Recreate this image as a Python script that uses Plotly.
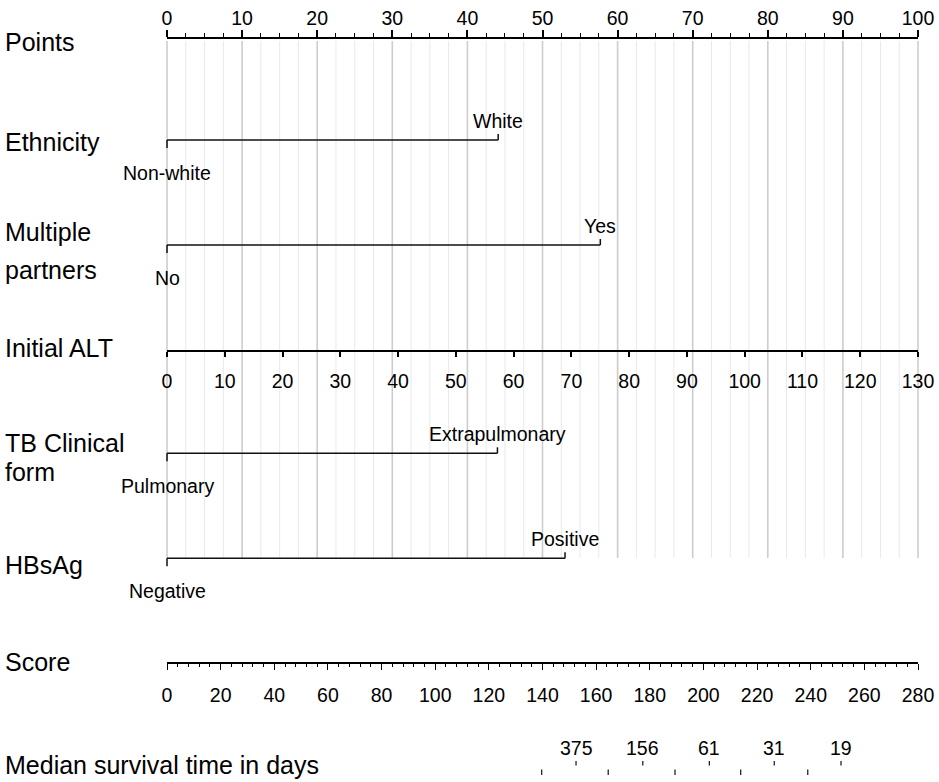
import numpy as np
import plotly.graph_objects as go

# ---------------- nomogram content ----------------
points_ticks = list(range(0, 101, 10))

ethnicity_levels = ["Non-white", "White"]
ethnicity_points = [0, 44.1]

partners_levels = ["No", "Yes"]
partners_points = [0, 57.7]

alt_ticks = list(range(0, 131, 10))
alt_max = 130            # ALT value that earns 100 points

tb_levels = ["Pulmonary", "Extrapulmonary"]
tb_points = [0, 44.0]

hbsag_levels = ["Negative", "Positive"]
hbsag_points = [0, 53.0]

score_ticks = list(range(0, 281, 20))
score_max = 280

survival_scores = [139.7, 152.5, 164.5, 177.4, 189.4, 202.2, 213.9, 226.4, 238.9, 251.3]
survival_labels = ["", "375", "", "156", "", "61", "", "31", "", "19"]

# ---------------- page geometry (pixels) ----------------
W, H = 939, 782
X0_PX, X100_PX = 167, 918           # where 0 and 100 points sit
PPP = (X100_PX - X0_PX) / 100.0     # pixels per point
FONT = "Liberation Sans, Arial, Helvetica, sans-serif"
LABEL_SIZE = 25
SMALL_SIZE = 19.5

Y_POINTS = 37.5
Y_ETH = 140
Y_PART = 245
Y_ALT = 350.7
Y_TB = 453.3
Y_HBS = 558.3
Y_SCORE = 663.3
Y_SURV = 748
GRID_TOP, GRID_BOTTOM = 41, 558


def ypaper(py):
    return 1 - py / H


fig = go.Figure()
shapes = []
annotations = []

# vertical reference grid on the points scale
for v in np.arange(0, 100.001, 2.5):
    major = abs(v % 10) < 1e-9
    shapes.append(dict(
        type="line", xref="x", yref="y", x0=v, x1=v, y0=GRID_TOP, y1=GRID_BOTTOM,
        line=dict(color="#cdcdcd" if major else "#e9e9e9", width=1.6 if major else 1),
        layer="below"))


def row_label(text, py):
    annotations.append(dict(
        text=text, xref="paper", yref="y", x=3 / W, y=py, xanchor="left", yanchor="middle",
        showarrow=False, font=dict(family=FONT, size=LABEL_SIZE, color="black")))


def categorical_row(levels, pts, py):
    shapes.append(dict(type="line", xref="x", yref="y", x0=pts[0], x1=pts[-1], y0=py, y1=py,
                       line=dict(color="#111111", width=1.5)))
    for i, (lab, p) in enumerate(zip(levels, pts)):
        below = (i % 2 == 0)
        tick_end = py + 8 if below else py - 6
        shapes.append(dict(type="line", xref="x", yref="y", x0=p, x1=p, y0=py, y1=tick_end,
                           line=dict(color="#111111", width=1.5)))
        annotations.append(dict(
            text=lab, xref="x", yref="y", x=p, y=py + 33 if below else py - 19,
            xanchor="center", yanchor="middle", showarrow=False,
            font=dict(family=FONT, size=SMALL_SIZE, color="black")))


# row titles
row_label("Points", 42)
row_label("Ethnicity", 142)
row_label("Multiple", 232)
row_label("partners", 270)
row_label("Initial ALT", 348)
row_label("TB Clinical", 443)
row_label("form", 472)
row_label("HBsAg", 565)
row_label("Score", 662)
row_label("Median survival time in days", 765)

categorical_row(ethnicity_levels, ethnicity_points, Y_ETH)
categorical_row(partners_levels, partners_points, Y_PART)
categorical_row(tb_levels, tb_points, Y_TB)
categorical_row(hbsag_levels, hbsag_points, Y_HBS)

# median survival ticks placed on the score scale
for s, lab in zip(survival_scores, survival_labels):
    p = s * 100.0 / score_max
    if lab:
        shapes.append(dict(type="line", xref="x", yref="y", x0=p, x1=p, y0=761, y1=765.5,
                           line=dict(color="#111111", width=1.2)))
        annotations.append(dict(
            text=lab, xref="x", yref="y", x=p, y=Y_SURV, xanchor="center", yanchor="middle",
            showarrow=False, font=dict(family=FONT, size=SMALL_SIZE, color="black")))
    else:
        shapes.append(dict(type="line", xref="x", yref="y", x0=p, x1=p, y0=769.5, y1=775,
                           line=dict(color="#111111", width=1.2)))

# invisible carriers so the scale axes get drawn
for ax in ["x2", "x3", "x4"]:
    fig.add_trace(go.Scatter(x=[None], y=[None], xaxis=ax, yaxis="y",
                             showlegend=False, hoverinfo="skip"))
fig.add_trace(go.Scatter(x=[None], y=[None], showlegend=False, hoverinfo="skip"))

dom = [X0_PX / W, X100_PX / W]
axis_common = dict(
    domain=dom, anchor="free", showgrid=False, zeroline=False, showline=True,
    automargin=False,
    linecolor="black", ticks="outside", tickcolor="black", tickmode="linear", tick0=0,
    tickfont=dict(family=FONT, size=SMALL_SIZE, color="black"), fixedrange=True)

fig.update_layout(
    width=W, height=H, autosize=False,
    margin=dict(l=0, r=0, t=0, b=0, pad=0, autoexpand=False),
    paper_bgcolor="white", plot_bgcolor="rgba(0,0,0,0)", showlegend=False,
    xaxis=dict(domain=[0, 1], range=[-X0_PX / PPP, (W - X0_PX) / PPP], visible=False,
               automargin=False, fixedrange=True),
    yaxis=dict(domain=[0, 1], range=[H, 0], visible=False, automargin=False,
               fixedrange=True),
    xaxis2=dict(**axis_common, range=[0, 100], dtick=10, side="top",
                position=ypaper(Y_POINTS), ticklen=7, tickwidth=1.5, linewidth=2,
                ticklabelstandoff=-3,
                minor=dict(ticks="outside", dtick=2.5, tick0=0, ticklen=4, tickwidth=1,
                           tickcolor="black", showgrid=False)),
    xaxis3=dict(**axis_common, range=[0, alt_max], dtick=10, side="bottom",
                position=ypaper(Y_ALT), ticklen=5, tickwidth=1.5, linewidth=2,
                ticklabelstandoff=8),
    xaxis4=dict(**axis_common, range=[0, score_max], dtick=20, side="bottom",
                position=ypaper(Y_SCORE), ticklen=6, tickwidth=1.2, linewidth=1.5,
                ticklabelstandoff=9,
                minor=dict(ticks="outside", dtick=4, tick0=0, ticklen=3, tickwidth=1,
                           tickcolor="black", showgrid=False)),
    shapes=shapes, annotations=annotations,
)

fig.write_html("out.html", config={"responsive": False})
